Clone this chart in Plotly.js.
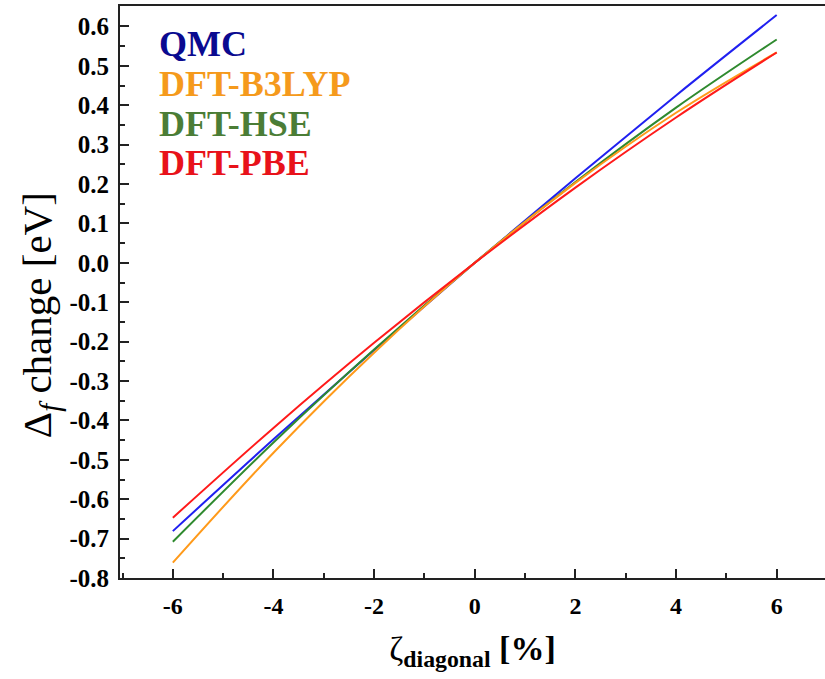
<!DOCTYPE html>
<html>
<head>
<meta charset="utf-8">
<script src="https://cdn.plot.ly/plotly-3.0.1.min.js"></script>
<style>html,body{margin:0;padding:0;background:#fff;}#chart{width:825px;height:679px;}</style>
</head>
<body>
<div id="chart"></div>
<script>
// strain values [%]
const strain = [-6, -4, -2, 0, 2, 4, 6];
// formation-energy change [eV] for each method
const qmc   = [-0.681, -0.448, -0.221, 0.000, 0.215, 0.425, 0.629];
const b3lyp = [-0.761, -0.482, -0.228, 0.000, 0.203, 0.381, 0.534];
const hse   = [-0.708, -0.456, -0.220, 0.000, 0.205, 0.394, 0.567];
const pbe   = [-0.647, -0.419, -0.203, 0.000, 0.191, 0.369, 0.534];
const names = ["QMC", "DFT-B3LYP", "DFT-HSE", "DFT-PBE"];
const yTicks = [-0.8,-0.7,-0.6,-0.5,-0.4,-0.3,-0.2,-0.1,0.0,0.1,0.2,0.3,0.4,0.5,0.6];
const xTicks = [-6,-4,-2,0,2,4,6];
const xTitle = "ζ<sub><b>diagonal</b></sub> <b>[%]</b>";
const yTitle = "Δ<sub><i>f</i></sub> change [eV]";

const lineColors = ["#2020f0", "#ff9a1a", "#2f8a2f", "#ff1a1a"];
const textColors = ["#0a0a90", "#f59a1c", "#4b7d36", "#e8121a"];
const series = [qmc, b3lyp, hse, pbe];

const traces = series.map((ys, i) => ({
  x: strain, y: ys, name: names[i], type: "scatter", mode: "lines",
  line: {color: lineColors[i], width: 2, shape: "spline"}
}));
const order = [0, 2, 1, 3];

const FAM = "Liberation Serif";
const labelY = [0.934, 0.864, 0.794, 0.7255];
const annotations = names.map((n, i) => ({
  text: "<b>" + n + "</b>", xref: "paper", yref: "paper",
  x: 0.053, y: labelY[i], xanchor: "left", yanchor: "middle", showarrow: false,
  font: {family: FAM, size: 36, color: textColors[i]}
}));
annotations.push({
  text: yTitle, xref: "paper", yref: "paper", x: -0.113, y: 0.46,
  xanchor: "center", yanchor: "middle", textangle: -90, showarrow: false,
  font: {family: FAM, size: 41, color: "#000"}
});

const layout = {
  width: 825, height: 679,
  margin: {l: 120, r: 0, t: 6, b: 101},
  paper_bgcolor: "#fff", plot_bgcolor: "#fff",
  showlegend: false,
  font: {family: FAM, color: "#000"},
  xaxis: {
    range: [-7.05, 6.96], tickvals: xTicks, ticktext: xTicks.map(String),
    ticks: "inside", ticklen: 9, tickwidth: 2, tickcolor: "#222",
    minor: {dtick: 1, ticks: "inside", ticklen: 5, tickwidth: 2, tickcolor: "#222"},
    showline: true, linecolor: "#222", linewidth: 2, mirror: true,
    showgrid: false, zeroline: false,
    tickfont: {family: FAM, size: 24, color: "#000", weight: "bold"},
    ticklabelstandoff: 5,
    title: {text: xTitle, font: {family: FAM, size: 34, color: "#000"}, standoff: 18}
  },
  yaxis: {
    range: [-0.8, 0.652], tickvals: yTicks, ticktext: yTicks.map(v => v.toFixed(1)),
    ticks: "inside", ticklen: 9, tickwidth: 2, tickcolor: "#222",
    minor: {dtick: 0.05, tick0: 0, ticks: "inside", ticklen: 5, tickwidth: 2, tickcolor: "#222"},
    showline: true, linecolor: "#222", linewidth: 2, mirror: false,
    showgrid: false, zeroline: false,
    tickfont: {family: FAM, size: 25, color: "#000", weight: "bold"},
    ticklabelstandoff: 4
  },
  annotations: annotations
};

Plotly.newPlot("chart", order.map(i => traces[i]), layout, {staticPlot: true, displayModeBar: false});
</script>
</body>
</html>
